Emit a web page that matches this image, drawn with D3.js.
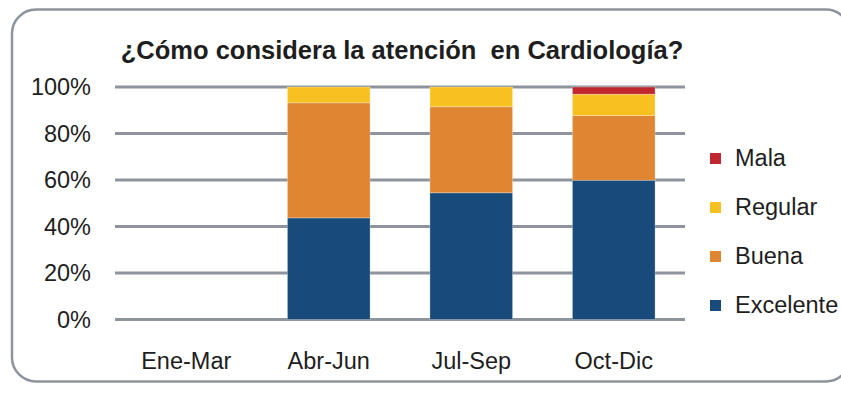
<!DOCTYPE html>
<html lang="es">
<head>
  <meta charset="UTF-8">
  <title>Atención en Cardiología</title>
  <script src="https://d3js.org/d3.v7.min.js"></script>
  <style>
    body {
      margin: 0;
      background: #fff;
      font-family: "Liberation Sans", Arial, sans-serif;
    }
    svg {
      display: block;
    }
  </style>
</head>
<body>
  <svg width="841" height="409"></svg>

  <script>
    const categories = ["Ene-Mar", "Abr-Jun", "Jul-Sep", "Oct-Dic"];
    const seriesNames = ["Excelente", "Buena", "Regular", "Mala"];
    const excelente = [0, 43.7, 54.5, 59.9];
    const buena = [0, 49.5, 37.0, 27.8];
    const regular = [0, 6.8, 8.5, 9.2];
    const mala = [0, 0, 0, 3.1];
    const yTicks = [0, 20, 40, 60, 80, 100];
    const colors = ["#184a7c", "#e08531", "#f7c221", "#c1272e"];

    const svg = d3.select("svg");

    // frame
    svg.append("rect")
      .attr("x", 12)
      .attr("y", 9.5)
      .attr("width", 838)
      .attr("height", 372)
      .attr("rx", 24)
      .attr("fill", "none")
      .attr("stroke", "#8d949c")
      .attr("stroke-width", 2.5);

    const x = d3.scaleBand()
      .domain(categories)
      .range([115, 685])
      .paddingInner(0.42)
      .paddingOuter(0.21);

    const y = d3.scaleLinear()
      .domain([0, 100])
      .range([319.5, 87]);

    // gridlines
    svg.append("g")
      .selectAll("line")
      .data(yTicks)
      .join("line")
      .attr("x1", 115)
      .attr("x2", 685)
      .attr("y1", d => y(d))
      .attr("y2", d => y(d))
      .attr("stroke", "#8d949c")
      .attr("stroke-width", 3);

    const table = categories.map((c, i) => ({
      cat: c,
      Excelente: excelente[i],
      Buena: buena[i],
      Regular: regular[i],
      Mala: mala[i]
    }));

    const stacked = d3.stack().keys(seriesNames)(table);

    svg.append("g")
      .selectAll("g")
      .data(stacked)
      .join("g")
      .attr("fill", (d, i) => colors[i])
      .selectAll("rect")
      .data(d => d.filter(p => p[1] - p[0] > 0))
      .join("rect")
      .attr("x", d => x(d.data.cat))
      .attr("width", x.bandwidth())
      .attr("y", d => y(d[1]))
      .attr("height", d => y(d[0]) - y(d[1]))
      .attr("stroke", "rgba(255,255,255,0.35)")
      .attr("stroke-width", 0.8);

    // y axis labels
    svg.append("g")
      .selectAll("text")
      .data(yTicks)
      .join("text")
      .attr("x", 91)
      .attr("y", d => y(d))
      .attr("dy", "0.36em")
      .attr("text-anchor", "end")
      .attr("font-size", 23.5)
      .attr("fill", "#1e1e1e")
      .text(d => d + "%");

    // x axis labels
    svg.append("g")
      .selectAll("text")
      .data(categories)
      .join("text")
      .attr("x", d => x(d) + x.bandwidth() / 2)
      .attr("y", 369)
      .attr("text-anchor", "middle")
      .attr("font-size", 23.5)
      .attr("fill", "#1e1e1e")
      .text(d => d);

    // title
    svg.append("text")
      .attr("x", 402)
      .attr("y", 59)
      .attr("text-anchor", "middle")
      .attr("font-size", 25.5)
      .attr("font-weight", "bold")
      .attr("fill", "#1e1e1e")
      .attr("xml:space", "preserve")
      .style("white-space", "pre")
      .text("¿Cómo considera la atención  en Cardiología?");

    // legend
    const legendItems = seriesNames.map((s, i) => ({ name: s, color: colors[i] })).reverse();
    const legend = svg.append("g")
      .selectAll("g")
      .data(legendItems)
      .join("g")
      .attr("transform", (d, i) => `translate(710, ${158 + i * 49})`);

    legend.append("rect")
      .attr("x", 0)
      .attr("y", -5)
      .attr("width", 11)
      .attr("height", 11)
      .attr("fill", d => d.color);

    legend.append("text")
      .attr("x", 25)
      .attr("y", 0)
      .attr("dy", "0.36em")
      .attr("font-size", 23.5)
      .attr("fill", "#1e1e1e")
      .text(d => d.name);
  </script>
</body>
</html>
